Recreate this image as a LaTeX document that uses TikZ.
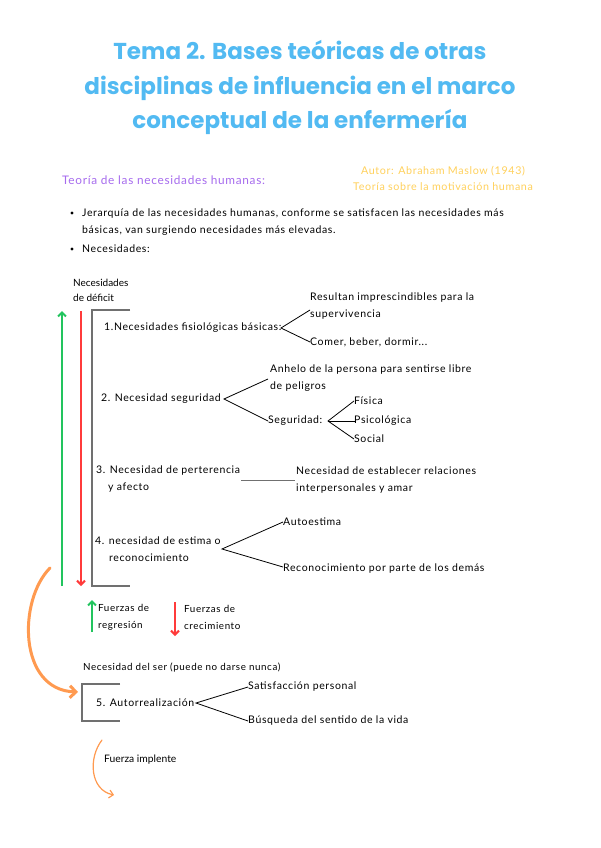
\documentclass[tikz,border=0pt]{standalone}
\usepackage{fontspec}
\setmainfont{Lato}
\newfontfamily\bodyls{Lato}[LetterSpace=6]
\newfontfamily\titlefont{Poppins}
\usetikzlibrary{arrows.meta}
\definecolor{ttlblue}{HTML}{52BAF2}
\definecolor{purp}{HTML}{A66BEE}
\definecolor{yell}{HTML}{FFD15C}
\definecolor{grn}{HTML}{22C45E}
\definecolor{rd}{HTML}{FF3B3B}
\definecolor{gry}{HTML}{707070}
\definecolor{orng}{HTML}{FF9A50}
\begin{document}
\begin{tikzpicture}[x=1pt,y=-1pt,
  txt/.style={anchor=west, inner sep=0pt, font=\bodyls\fontsize{10.5}{17}\selectfont, align=left},
  txtm/.style={txt, font=\bodyls\fontsize{9.8}{17}\selectfont},
  txts/.style={txt, font=\fontsize{10}{15}\selectfont},
  ttl/.style={anchor=center, inner sep=0pt, text=ttlblue, font=\titlefont\bfseries\fontsize{23}{27}\selectfont},
  conn/.style={draw=black, line width=0.8pt},
  brk/.style={draw=gry, line width=1.6pt},
  upg/.style={draw=grn, line width=2pt, -{Straight Barb[length=4pt,width=8pt]}},
  dnr/.style={draw=rd, line width=2pt, -{Straight Barb[length=4pt,width=8pt]}}]
\useasboundingbox (0,0) rectangle (600,848);
\fill[white] (0,0) rectangle (600,848);
% title
\node[ttl] (t1) at (300,50) {Tema 2. Bases teóricas de otras};
\node[ttl] (t2) at (300,88) {disciplinas de influencia en el marco};
\node[ttl] (t3) at (300,122) {conceptual de la enfermería};
% subtitle
\node[txt, text=purp, font=\bodyls\fontsize{11.8}{14}\selectfont] (teo) at (62,180) {Teoría de las necesidades humanas:};
\node[inner sep=0pt, text=yell, font=\bodyls\fontsize{10.7}{16}\selectfont, align=center] (aut) at (443,178) {Autor: Abraham Maslow (1943)\\Teoría sobre la motivación humana};
% bullets
\node[txt] (bul1) at (82,222) {Jerarquía de las necesidades humanas, conforme se satisfacen las necesidades más\\básicas, van surgiendo necesidades más elevadas.};
\node[txt] (bul2) at (82,249) {Necesidades:};
\fill (72,213) circle (1.6pt);
\fill (72,249) circle (1.6pt);
% deficit label
\node[txts] (def) at (73,290) {Necesidades\\de déficit};
% bracket
\coordinate (bt) at (130,310);
\coordinate (btl) at (92,310);
\coordinate (bbl) at (92,586);
\coordinate (bb) at (130,586);
\draw[brk] (bt) -- (btl) -- (bbl) -- (bb);
% vertical arrows
\coordinate (ga) at (62,586); \coordinate (gb) at (62,311);
\coordinate (ra) at (81,311); \coordinate (rb) at (81,586);
\draw[upg] (ga) -- (gb);
\draw[dnr] (ra) -- (rb);
% item 1
\node[txt] (n1) at (104,328) {1.Necesidades fisiológicas básicas:};
\node[txt] (n1a) at (310,306.5) {Resultan imprescindibles para la\\supervivencia};
\node[txt] (n1b) at (310,342) {Comer, beber, dormir...};
\coordinate (b1) at (281,328);
\coordinate (e1a) at (310,310);
\coordinate (e1b) at (310,342);
\draw[conn] (e1a) -- (b1) -- (e1b);
% item 2
\node[txt] (n2) at (101,399) {2. Necesidad seguridad};
\node[txt] (n2a) at (270,378.5) {Anhelo de la persona para sentirse libre\\de peligros};
\node[txt] (n2b) at (268,421) {Seguridad:};
\coordinate (b2) at (224,399);
\coordinate (e2a) at (268,379);
\coordinate (e2b) at (268,421);
\draw[conn] (e2a) -- (b2) -- (e2b);
\node[txt] (s1) at (354,401) {Física};
\node[txt] (s2) at (354,421) {Psicológica};
\node[txt] (s3) at (354,439) {Social};
\coordinate (b3) at (328,421);
\coordinate (e3a) at (354,401);
\coordinate (e3b) at (356,421);
\coordinate (e3c) at (354,439);
\draw[conn] (e3a) -- (b3) -- (e3c);
\draw[conn] (b3) -- (e3b);
% item 3
\node[txt] (n3) at (96,479.5) {3. Necesidad de perterencia\\\hspace*{12pt}y afecto};
\node[txt] (n3a) at (296,480) {Necesidad de establecer relaciones\\interpersonales y amar};
\coordinate (l3a) at (241,480);
\coordinate (l3b) at (295,480);
\draw[draw=gry, line width=1pt] (l3a) -- (l3b);
% item 4
\node[txt] (n4) at (95,549.5) {4. necesidad de estima o\\\hspace*{14pt}reconocimiento};
\node[txt] (n4a) at (283,522) {Autoestima};
\node[txt] (n4b) at (283,569) {Reconocimiento por parte de los demás};
\coordinate (b4) at (222,549);
\coordinate (e4a) at (283,522);
\coordinate (e4b) at (283,567);
\draw[conn] (e4a) -- (b4) -- (e4b);
% legend
\coordinate (lga) at (92,632); \coordinate (lgb) at (92,600);
\draw[upg] (lga) -- (lgb);
\node[txtm] (lg) at (98,617.5) {Fuerzas de\\regresión};
\coordinate (lra) at (175,602); \coordinate (lrb) at (175,636);
\draw[dnr] (lra) -- (lrb);
\node[txtm] (lr) at (184,617.5) {Fuerzas de\\crecimiento};
% orange curve
\coordinate (oa) at (50,568);
\coordinate (ob) at (78,692);
\draw[draw=orng, line width=3pt, line cap=round, -{Straight Barb[length=6pt,width=12pt]}] (oa) .. controls (18,600) and (18,690) .. (ob);
% being need
\node[txtm] (ser) at (83,668) {Necesidad del ser (puede no darse nunca)};
\coordinate (ct) at (120,684); \coordinate (ctl) at (82,684);
\coordinate (cbl) at (82,721); \coordinate (cb) at (120,721);
\draw[brk] (ct) -- (ctl) -- (cbl) -- (cb);
\node[txt] (n5) at (96,703) {5. Autorrealización};
\node[txt] (n5a) at (248,687) {Satisfacción personal};
\node[txt] (n5b) at (248,721) {Búsqueda del sentido de la vida};
\coordinate (b5) at (196,703);
\coordinate (e5a) at (248,687);
\coordinate (e5b) at (248,721);
\draw[conn] (e5a) -- (b5) -- (e5b);
% thin orange arc
\coordinate (fa) at (102,740);
\coordinate (fb) at (114,795);
\draw[draw=orng, line width=1.2pt, line cap=round, -{Straight Barb[length=4pt,width=8pt]}] (fa) .. controls (88,758) and (90,790) .. (fb);
\node[txts, font=\fontsize{10.3}{15}\selectfont] (fi) at (104,760) {Fuerza implente};
\end{tikzpicture}
\end{document}
